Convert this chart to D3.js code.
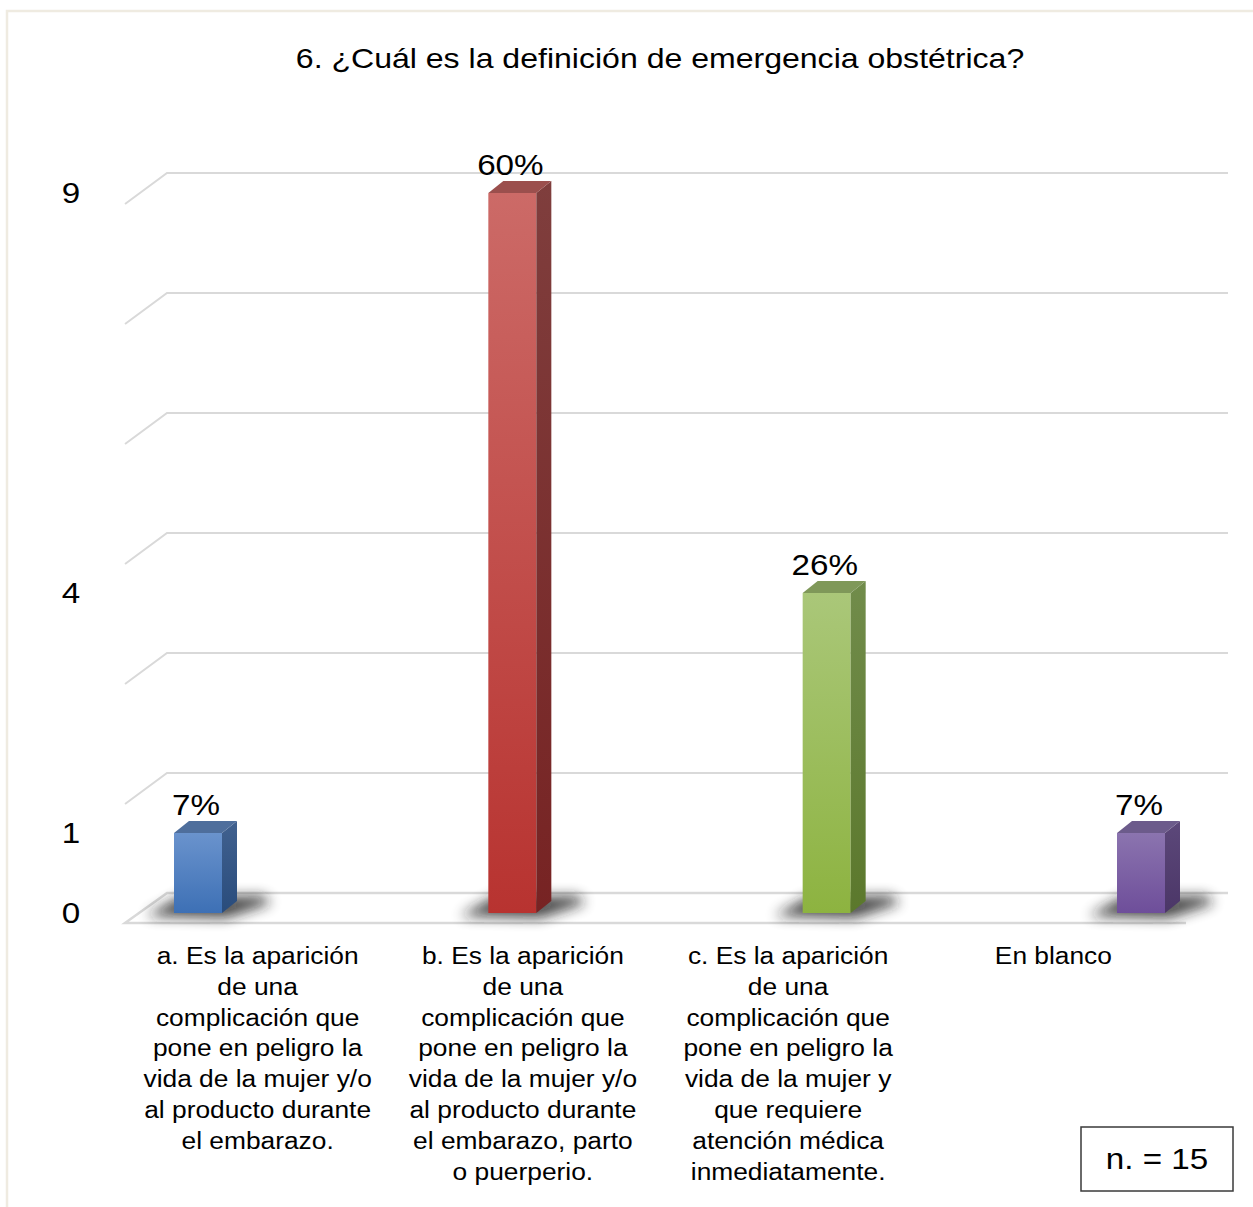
<!DOCTYPE html>
<html>
<head>
<meta charset="utf-8">
<script src="https://cdn.jsdelivr.net/npm/d3@7"></script>
<style>
  html, body { margin: 0; padding: 0; background: #ffffff; }
  svg { display: block; }
  text { font-family: "Liberation Sans", Arial, Helvetica, sans-serif; fill: #000; }
</style>
</head>
<body>
<svg id="chart" width="1253" height="1207"></svg>
<script>
// ---- data ----
const chartTitle = "6. ¿Cuál es la definición de emergencia obstétrica?";
const categories = [
  "a. Es la aparición\nde una\ncomplicación que\npone en peligro la\nvida de la mujer y/o\nal producto durante\nel embarazo.",
  "b. Es la aparición\nde una\ncomplicación que\npone en peligro la\nvida de la mujer y/o\nal producto durante\nel embarazo, parto\no puerperio.",
  "c. Es la aparición\nde una\ncomplicación que\npone en peligro la\nvida de la mujer y\nque requiere\natención médica\ninmediatamente.",
  "En blanco"
];
const counts = [1, 9, 4, 1];
const percentLabels = ["7%", "60%", "26%", "7%"];
const yTickValues = [0, 1, 4, 9];
const yTickLabels = ["0", "1", "4", "9"];
const sampleNote = "n. = 15";

// ---- styles (front top, front bottom, side top, side bottom, top face) ----
const barColors = [
  ["#6a93cd", "#3d70b5", "#41618f", "#294c7c", "#4e6e9c"],
  ["#cc6a67", "#b83330", "#7f3e3d", "#772323", "#9b4f4d"],
  ["#aac779", "#8db340", "#718c4b", "#5b782c", "#7f9859"],
  ["#8b74af", "#6e4e9a", "#5c487a", "#4b3667", "#6c5b8b"]
];

const svg = d3.select("#chart");
const W = 1253, H = 1207;
const SX = 1.145; // horizontal text stretch

const defs = svg.append("defs");
defs.append("filter").attr("id", "shadowBlur")
  .attr("x", "-50%").attr("y", "-100%").attr("width", "200%").attr("height", "300%")
  .append("feGaussianBlur").attr("stdDeviation", 6.5);

barColors.forEach((c, i) => {
  const gf = defs.append("linearGradient").attr("id", "front" + i)
    .attr("x1", 0).attr("y1", 0).attr("x2", 0).attr("y2", 1);
  gf.append("stop").attr("offset", "0%").attr("stop-color", c[0]);
  gf.append("stop").attr("offset", "100%").attr("stop-color", c[1]);
  const gs = defs.append("linearGradient").attr("id", "side" + i)
    .attr("x1", 0).attr("y1", 0).attr("x2", 0).attr("y2", 1);
  gs.append("stop").attr("offset", "0%").attr("stop-color", c[2]);
  gs.append("stop").attr("offset", "100%").attr("stop-color", c[3]);
});

// outer chart-area frame
svg.append("rect")
  .attr("x", 7).attr("y", 11).attr("width", W + 20).attr("height", H + 20)
  .attr("fill", "none").attr("stroke", "#efebe1").attr("stroke-width", 2.5);

// helper: stretched text
function stretchedText(sel, x, y, anchor) {
  return sel.attr("text-anchor", anchor)
    .attr("transform", `translate(${x},${y}) scale(${SX},1)`);
}

// title
stretchedText(svg.append("text"), 660, 68, "middle")
  .attr("font-size", 28).text(chartTitle);

// ---- 3D geometry ----
const backLeft = 167, backRight = 1228;
const floorBackY = 893;
const depthDx = -42, depthDy = 30;
const barBaseY = 913;             // front-bottom of bars
const barW = 48, barDx = 15, barDy = 12;

const yMax = d3.max(counts);
const y = d3.scaleLinear().domain([0, yMax]).range([0, 720]);

// gridlines on the back and side walls
const gridValues = d3.range(1.5, yMax + 0.001, 1.5);
const grid = svg.append("g").attr("stroke", "#d9d9d9").attr("stroke-width", 2).attr("fill", "none");
gridValues.forEach(v => {
  const yy = floorBackY - y(v);
  grid.append("path")
    .attr("d", `M${backLeft + depthDx},${yy + depthDy + 1}L${backLeft},${yy}L${backRight},${yy}`);
});

// floor
const floor = svg.append("g").attr("stroke", "#d9d9d9").attr("stroke-width", 2.5).attr("fill", "#ffffff");
floor.append("path")
  .attr("d", `M${backRight},${floorBackY}L${backLeft},${floorBackY}L${backLeft + depthDx},${floorBackY + depthDy}L${backRight + depthDx},${floorBackY + depthDy}`)
  .attr("fill", "#ffffff");

// y axis labels
svg.append("g").selectAll("text").data(yTickValues).join("text")
  .each(function(v, i) {
    stretchedText(d3.select(this), 71, barBaseY - y(v), "middle")
      .attr("font-size", 29).attr("dy", "0.36em").text(yTickLabels[i]);
  });

// bars
const xBar = d3.scalePoint().domain(categories).range([198, 1141]);

const bars = svg.append("g").selectAll("g").data(counts).join("g");

// floor shadows
bars.append("path")
  .attr("d", (d, i) => {
    const cx = xBar(categories[i]);
    const xl = cx - barW / 2, xr = cx + barW / 2, xs = xr + barDx;
    return `M${xl - 28},${barBaseY + 3}L${xr + 4},${barBaseY + 5}L${xs + 34},${barBaseY - 10}L${xs + 26},${floorBackY + 3}L${xl + 6},${floorBackY + 4}Z`;
  })
  .attr("fill", "#1a1a1a").attr("opacity", 0.8)
  .attr("filter", "url(#shadowBlur)");

// front faces
bars.append("rect")
  .attr("x", (d, i) => xBar(categories[i]) - barW / 2)
  .attr("y", d => barBaseY - y(d))
  .attr("width", barW)
  .attr("height", d => y(d))
  .attr("fill", (d, i) => `url(#front${i})`);

// side faces
bars.append("path")
  .attr("d", (d, i) => {
    const xr = xBar(categories[i]) + barW / 2, top = barBaseY - y(d);
    return `M${xr},${top}L${xr + barDx},${top - barDy}L${xr + barDx},${barBaseY - barDy}L${xr},${barBaseY}Z`;
  })
  .attr("fill", (d, i) => `url(#side${i})`);

// top faces
bars.append("path")
  .attr("d", (d, i) => {
    const xl = xBar(categories[i]) - barW / 2, xr = xl + barW, top = barBaseY - y(d);
    return `M${xl},${top}L${xl + barDx},${top - barDy}L${xr + barDx},${top - barDy}L${xr},${top}Z`;
  })
  .attr("fill", (d, i) => barColors[i][4]);

// value labels
bars.append("text")
  .each(function(d, i) {
    stretchedText(d3.select(this), xBar(categories[i]) - 2, barBaseY - y(d) - barDy - 6, "middle")
      .attr("font-size", 29).text(percentLabels[i]);
  });

// category labels along the front edge
const xLab = d3.scaleBand().domain(categories).range([backLeft + depthDx, backRight + depthDx]);
const lineH = 30.8;
svg.append("g").selectAll("text").data(categories).join("text")
  .each(function(c) {
    const t = d3.select(this);
    stretchedText(t, xLab(c) + xLab.bandwidth() / 2, 964, "middle").attr("font-size", 23);
    c.split("\n").forEach((line, k) => {
      t.append("tspan").attr("x", 0).attr("y", k * lineH).text(line);
    });
  });

// sample size box
svg.append("rect")
  .attr("x", 1081).attr("y", 1127).attr("width", 152).attr("height", 64)
  .attr("fill", "#ffffff").attr("stroke", "#3a3a3a").attr("stroke-width", 1.5);
stretchedText(svg.append("text"), 1157, 1169, "middle")
  .attr("font-size", 29).text(sampleNote);
</script>
</body>
</html>
